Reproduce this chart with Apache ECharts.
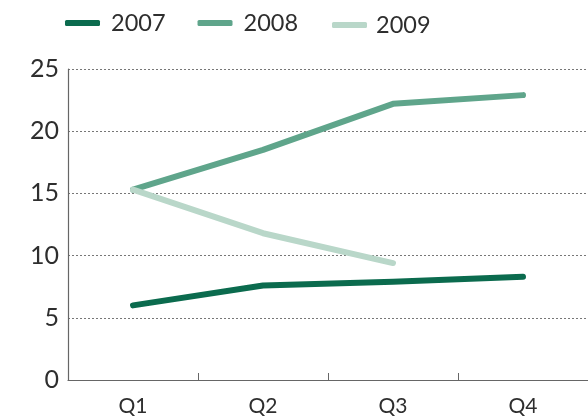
<!DOCTYPE html>
<html>
<head>
<meta charset="utf-8">
<script src="https://cdn.jsdelivr.net/npm/echarts@6/dist/echarts.min.js"></script>
<style>
  html, body { margin: 0; padding: 0; background: #fff; }
  #chart { width: 588px; height: 417px; }
</style>
</head>
<body>
<div id="chart"></div>
<script>
// Quarterly values per year
const quarters = ['Q1', 'Q2', 'Q3', 'Q4'];
const values2007 = [6.0, 7.6, 7.9, 8.3];
const values2008 = [15.3, 18.5, 22.2, 22.9];
const values2009 = [15.3, 11.8, 9.4, null];
const yTicks = [0, 5, 10, 15, 20, 25];

const colors = { '2007': '#0b6b4e', '2008': '#5fa58b', '2009': '#b9d7c9' };
const font = 'Lato, "DejaVu Sans", sans-serif';
const textColor = '#2e2e2e';

const chart = echarts.init(document.getElementById('chart'));

function lineSeries(name, data) {
  return {
    name: name,
    type: 'line',
    data: data,
    showSymbol: false,
    symbol: 'none',
    connectNulls: false,
    lineStyle: { color: colors[name], width: 6, cap: 'round', join: 'round' },
    itemStyle: { color: colors[name] },
    emphasis: { disabled: true }
  };
}

function legendBlock(names, left, top, textPadding) {
  return {
    data: names,
    left: left,
    top: top,
    icon: 'roundRect',
    itemWidth: 35,
    itemHeight: 6,
    itemGap: 32,
    selectedMode: false,
    textStyle: { fontFamily: font, fontSize: 23.5, color: textColor, padding: textPadding }
  };
}

chart.setOption({
  animation: false,
  color: [colors['2007'], colors['2008'], colors['2009']],
  legend: [
    legendBlock(['2007', '2008'], 60, 6, [0, 0, 0, 6]),
    legendBlock(['2009'], 327, 8, [0, 0, 10, 4])
  ],
  grid: { left: 68, right: -2, top: 69, bottom: 36, containLabel: false },
  xAxis: {
    type: 'category',
    data: quarters,
    boundaryGap: true,
    axisLine: { lineStyle: { color: '#666', width: 1.2 } },
    axisTick: { show: true, inside: true, length: 7, lineStyle: { color: '#666' } },
    axisLabel: { fontFamily: font, fontSize: 21, color: textColor, margin: 16 }
  },
  yAxis: {
    type: 'value',
    min: yTicks[0],
    max: yTicks[yTicks.length - 1],
    interval: 5,
    axisLine: { show: true, lineStyle: { color: '#666', width: 1.2 } },
    axisTick: { show: false },
    axisLabel: { fontFamily: font, fontSize: 25, color: textColor, margin: 9 },
    splitLine: { show: true, lineStyle: { color: '#777', type: [2, 2], width: 1 } }
  },
  series: [
    lineSeries('2007', values2007),
    lineSeries('2008', values2008),
    lineSeries('2009', values2009)
  ]
});
</script>
</body>
</html>
